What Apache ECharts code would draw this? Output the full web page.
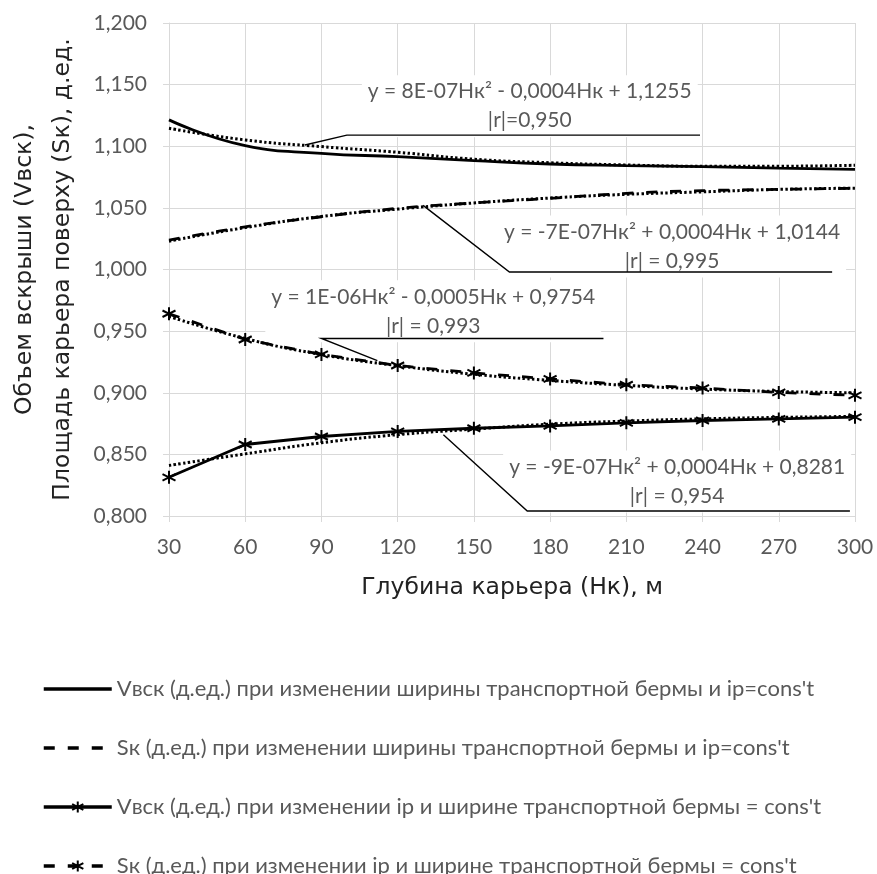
<!DOCTYPE html>
<html>
<head>
<meta charset="utf-8">
<script src="https://cdn.jsdelivr.net/npm/echarts@6/dist/echarts.min.js"></script>
<style>
  html, body { margin: 0; padding: 0; background: #fff; }
  #chart { width: 877px; height: 874px; }
</style>
</head>
<body>
<div id="chart"></div>
<script>
// Depth of the pit, m
const depth = [30, 60, 90, 120, 150, 180, 210, 240, 270, 300];

// Relative values (fractions of a unit)
const vbskBerm = [1.1214, 1.1005, 1.0943, 1.0915, 1.0883, 1.0856, 1.0843, 1.0834, 1.0822, 1.0813];
const skBerm   = [1.0238, 1.0346, 1.0428, 1.0496, 1.0540, 1.0577, 1.0618, 1.0640, 1.0650, 1.0659];
const vbskIp   = [0.8314, 0.8580, 0.8645, 0.8686, 0.8712, 0.8731, 0.8756, 0.8775, 0.8788, 0.8802];
const skIp     = [0.9641, 0.9432, 0.9311, 0.9221, 0.9161, 0.9112, 0.9065, 0.9038, 0.9003, 0.8979];

// Polynomial trend lines
const trendVbskBerm = [1.1146, 1.1051, 1.0997, 1.0951, 1.0895, 1.0866, 1.0848, 1.0838, 1.0838, 1.0846];
const trendSkBerm   = [1.0230, 1.0340, 1.0430, 1.0490, 1.0540, 1.0580, 1.0610, 1.0630, 1.0650, 1.0660];
const trendVbskIp   = [0.8410, 0.8504, 0.8594, 0.8660, 0.8705, 0.8745, 0.8770, 0.8788, 0.8800, 0.8808];
const trendSkIp     = [0.9620, 0.9440, 0.9310, 0.9220, 0.9150, 0.9100, 0.9060, 0.9030, 0.9010, 0.9000];

// Legend names
const seriesNames = [
  "Vвск (д.ед.) при изменении ширины транспортной бермы и ip=cons't",
  "Sк (д.ед.) при изменении ширины транспортной бермы и ip=cons't",
  "Vвск (д.ед.) при изменении ip и ширине транспортной бермы = cons't",
  "Sк (д.ед.) при изменении ip и ширине транспортной бермы = cons't"
];

// Trend equations: text, anchor of the text block, leader line points (axis units)
const eqTexts = [
  "y = 8E-07Hк² - 0,0004Hк + 1,1255\n|r|=0,950",
  "y = -7E-07Hк² + 0,0004Hк + 1,0144\n|r| = 0,995",
  "y = 1E-06Hк² - 0,0005Hк + 0,9754\n|r| = 0,993",
  "y = -9E-07Hк² + 0,0004Hк + 0,8281\n|r| = 0,954"
];
const eqAnchors = [[172, 1.1325], [228, 1.0186], [134, 0.9661], [230, 0.8280]];
const eqLeaders = [
  [[83.5, 1.101], [100, 1.109], [239, 1.109]],
  [[130, 1.052], [164, 0.998], [291, 0.998]],
  [[112, 0.926], [90, 0.944], [201, 0.944]],
  [[138, 0.866], [171, 0.804], [298, 0.804]]
];

const yTicks = { min: 0.8, max: 1.2, step: 0.05 };
const xTicks = { min: 30, max: 300, step: 30 };

const pair = (arr) => depth.map((d, i) => [d, arr[i]]);
const asterisk = 'path://M5,0 L5,10 M0.7,2.5 L9.3,7.5 M0.7,7.5 L9.3,2.5';
const labelFont = 'Lato, "Open Sans", sans-serif';
const titleFont = '"DejaVu Sans", sans-serif';
const gridColor = '#d9d9d9';
const dash = [11, 13];

const chart = echarts.init(document.getElementById('chart'), null, { renderer: 'canvas' });

function trend(data) {
  return {
    type: 'line', data: pair(data), smooth: true, symbol: 'none', z: 3,
    lineStyle: { color: '#000', width: 3, type: [2.4, 2.4] }, silent: true
  };
}

chart.setOption({
  animation: false,
  backgroundColor: '#fff',
  grid: { left: 169, right: 22, top: 23, bottom: 358, containLabel: false, outerBoundsMode: 'none' },
  legend: {
    data: seriesNames.map((n, i) => (i < 2 ? { name: n, itemStyle: { opacity: 0 } } : n)),
    orient: 'vertical', left: 42, top: 678, padding: 0, height: 220,
    itemWidth: 68, itemHeight: 14, itemGap: 37,
    lineStyle: { width: 3.5 },
    textStyle: { fontFamily: labelFont, fontSize: 22, color: '#595959' }
  },
  xAxis: {
    type: 'value', min: xTicks.min, max: xTicks.max, interval: xTicks.step,
    name: 'Глубина карьера (Нк), м', nameLocation: 'middle', nameGap: 60,
    nameTextStyle: { fontFamily: titleFont, fontSize: 23.5, color: '#222' },
    axisLine: { show: true, lineStyle: { color: gridColor } },
    axisTick: { show: true, length: 6, lineStyle: { color: gridColor } },
    axisLabel: { fontFamily: labelFont, fontSize: 21, color: '#595959', margin: 21 },
    splitLine: { show: true, lineStyle: { color: gridColor, width: 1 } }
  },
  yAxis: {
    type: 'value', min: yTicks.min, max: yTicks.max, interval: yTicks.step,
    name: 'Объем вскрыши (Vвск),\nПлощадь карьера поверху (Sк), д.ед.',
    nameLocation: 'middle', nameGap: 87, nameRotate: 90,
    nameTextStyle: { fontFamily: titleFont, fontSize: 23.5, color: '#222', lineHeight: 38, align: 'center' },
    axisLine: { show: true, lineStyle: { color: gridColor } },
    axisTick: { show: true, length: 6, lineStyle: { color: gridColor } },
    axisLabel: {
      fontFamily: labelFont, fontSize: 21, color: '#595959', margin: 22,
      formatter: (v) => v.toFixed(3).replace('.', ',')
    },
    splitLine: { show: true, lineStyle: { color: gridColor, width: 1 } }
  },
  series: [
    {
      name: seriesNames[0], type: 'line', data: pair(vbskBerm), smooth: 0.5, symbol: 'none', z: 4,
      lineStyle: { color: '#000', width: 2.8 }, itemStyle: { color: '#000' }
    },
    {
      name: seriesNames[1], type: 'line', data: pair(skBerm), smooth: 0.4, symbol: 'none', z: 4,
      lineStyle: { color: '#000', width: 2.8, type: dash }, itemStyle: { color: '#000' }
    },
    {
      name: seriesNames[2], type: 'line', data: pair(vbskIp), symbol: asterisk, symbolSize: 13, z: 4,
      lineStyle: { color: '#000', width: 2.8 },
      itemStyle: { color: '#000', borderColor: '#000', borderWidth: 2 }
    },
    {
      name: seriesNames[3], type: 'line', data: pair(skIp), symbol: asterisk, symbolSize: 13, z: 4,
      lineStyle: { color: '#000', width: 2.8, type: dash },
      itemStyle: { color: '#000', borderColor: '#000', borderWidth: 2 }
    },
    trend(trendVbskBerm),
    trend(trendSkBerm),
    trend(trendVbskIp),
    trend(trendSkIp)
  ]
});

// Trend equation labels with leader lines, placed through the axis scales
const toPx = (p) => chart.convertToPixel({ gridIndex: 0 }, p);
const graphics = [];
eqTexts.forEach((txt, i) => {
  const a = toPx(eqAnchors[i]);
  graphics.push({
    type: 'text', x: a[0], y: a[1], z: 1,
    style: {
      text: txt, x: 0, y: 0, align: 'center', verticalAlign: 'middle',
      font: '21px ' + labelFont, fill: '#595959', lineHeight: 29,
      backgroundColor: '#fff', padding: [2, 6, 2, 6]
    }
  });
  graphics.push({
    type: 'polyline', z: 5,
    shape: { points: eqLeaders[i].map(toPx) },
    style: { stroke: '#000', lineWidth: 1.4, fill: null }
  });
});
chart.setOption({ graphic: graphics });
</script>
</body>
</html>
